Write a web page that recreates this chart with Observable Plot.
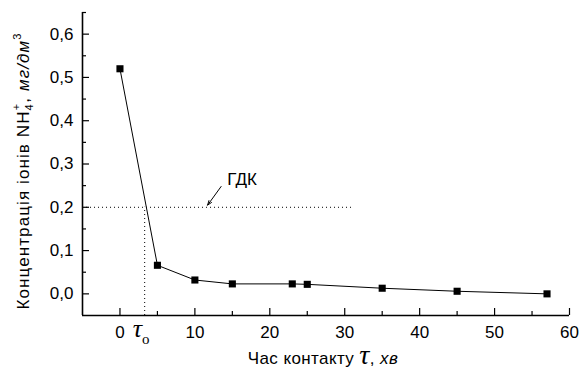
<!DOCTYPE html>
<html><head><meta charset="utf-8">
<script src="https://cdn.jsdelivr.net/npm/d3@7"></script>
<script src="https://cdn.jsdelivr.net/npm/@observablehq/plot@0.6"></script>
<style>body{margin:0;background:#fff} svg{display:block}</style>
</head><body><div id="chart"></div>
<script>
// Data
const time = [0, 5, 10, 15, 23, 25, 35, 45, 57];
const conc = [0.52, 0.066, 0.032, 0.023, 0.023, 0.022, 0.013, 0.006, 0.0];
const xMajor = [0, 10, 20, 30, 40, 50, 60];
const xMinor = [5, 15, 25, 35, 45, 55];
const yMajor = [0, 0.1, 0.2, 0.3, 0.4, 0.5, 0.6];
const yMinor = [0.05, 0.15, 0.25, 0.35, 0.45, 0.55, 0.65];
const pdkLevel = [0.2];          // ГДК
const pdkLineEnd = [31];         // end of horizontal dotted line
const tau0 = [3.3];              // crossing time τo
const pdkLabel = [{x: 16.3, y: 0.265, text: "ГДК"}];
const pdkArrow = [{x1: 13.5, y1: 0.248, x2: 11.7, y2: 0.205}];

const xDomain = [-5, 60];
const yDomain = [-0.05, 0.65];
const rows = time.map((t, i) => ({t, c: conc[i]}));
const fmt = d => d.toFixed(1).replace(".", ",");
const fmtX = d => String(d);
const font = "'Liberation Sans', Arial, sans-serif";

const plot = Plot.plot({
  width: 579, height: 369,
  marginLeft: 82, marginRight: 10, marginTop: 12, marginBottom: 54,
  style: {fontFamily: font, fontSize: "17px", background: "#fff", color: "#000"},
  x: {domain: xDomain},
  y: {domain: yDomain},
  marks: [
    // minor ticks
    Plot.axisY(yMinor, {tickSize: -4, tickFormat: () => "", label: null, strokeWidth: 1.2}),
    Plot.axisX(xMinor, {tickSize: -4, tickFormat: () => "", label: null, strokeWidth: 1.2}),
    // major ticks
    Plot.axisY(yMajor, {tickSize: -7, tickPadding: 16, tickFormat: fmt, label: null, strokeWidth: 1.2, fontSize: 17}),
    Plot.axisX(xMajor, {tickSize: -7, tickPadding: 17, tickFormat: fmtX, label: null, strokeWidth: 1.2, fontSize: 17}),
    // axis lines
    Plot.ruleX([xDomain[0]], {stroke: "#000", strokeWidth: 1.6}),
    Plot.ruleY([yDomain[0]], {stroke: "#000", strokeWidth: 1.6}),
    // dotted ГДК lines
    Plot.ruleY(pdkLevel, {x1: xDomain[0], x2: pdkLineEnd[0], stroke: "#000", strokeWidth: 1, strokeDasharray: "1,3"}),
    Plot.ruleX(tau0, {y1: yDomain[0], y2: pdkLevel[0], stroke: "#000", strokeWidth: 1, strokeDasharray: "1,3"}),
    // data
    Plot.line(rows, {x: "t", y: "c", stroke: "#000", strokeWidth: 1}),
    Plot.dot(rows, {x: "t", y: "c", symbol: "square", r: 4, fill: "#000", stroke: "none"}),
    // annotation
    Plot.text(pdkLabel, {x: "x", y: "y", text: "text", fontSize: 17, textAnchor: "middle"}),
    Plot.arrow(pdkArrow, {x1: "x1", y1: "y1", x2: "x2", y2: "y2", stroke: "#000", strokeWidth: 1, headLength: 7, headAngle: 40})
  ]
});
document.getElementById("chart").append(plot);

// Rich text titles and τo label
const svg = d3.select(plot);
const sx = plot.scale("x"), sy = plot.scale("y");

// τo under x-axis
const t0 = svg.append("text")
  .attr("x", sx.apply(tau0[0]) - 3).attr("y", sy.apply(yDomain[0]) + 22)
  .attr("text-anchor", "middle").attr("fill", "#000");
t0.append("tspan").attr("font-family", "'Liberation Serif', 'DejaVu Serif', serif")
  .attr("font-style", "italic").attr("font-size", 26).text("τ");
t0.append("tspan").attr("font-family", "'Liberation Serif', serif").attr("font-size", 15)
  .attr("dy", 7).text("o");

// x-axis title
const xt = svg.append("text")
  .attr("x", 323).attr("y", 364).attr("text-anchor", "middle")
  .attr("font-family", font).attr("font-size", 17).attr("letter-spacing", 0.4).attr("fill", "#000");
xt.append("tspan").text("Час контакту ");
xt.append("tspan").attr("font-family", "'Liberation Serif', serif").attr("font-style", "italic")
  .attr("font-size", 28).text("τ");
xt.append("tspan").text(", ");
xt.append("tspan").attr("font-style", "italic").text("хв");

// y-axis title
const yt = svg.append("text")
  .attr("transform", "translate(29,171) rotate(-90)").attr("text-anchor", "middle")
  .attr("font-family", font).attr("font-size", 17).attr("letter-spacing", 1.1).attr("fill", "#000");
yt.append("tspan").text("Концентрація іонів NH");
yt.append("tspan").attr("font-size", 11).attr("dy", 4).text("4");
yt.append("tspan").attr("font-size", 11).attr("dy", -13).attr("dx", -7).text("+");
yt.append("tspan").attr("dy", 9).text(", ");
yt.append("tspan").attr("font-style", "italic").text("мг/дм");
yt.append("tspan").attr("font-size", 11).attr("dy", -8).text("3");
</script>
</body></html>
